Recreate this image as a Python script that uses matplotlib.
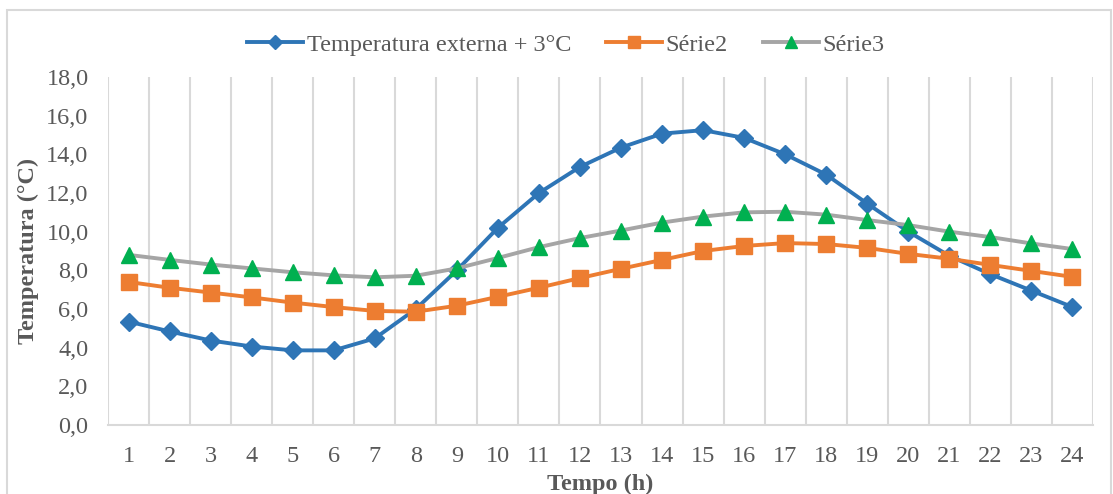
import matplotlib
matplotlib.use("Agg")
import matplotlib.pyplot as plt
from matplotlib.patches import Rectangle
import numpy as np

# hours
horas = list(range(1, 25))

# values
temp_externa = [5.35, 4.84, 4.37, 4.06, 3.86, 3.86, 4.48, 6.0, 8.0, 10.2, 12.0, 13.35,
                14.35, 15.07, 15.25, 14.85, 14.0, 12.95, 11.45, 10.0, 8.75, 7.8, 6.95, 6.1]
serie2 = [7.4, 7.1, 6.85, 6.6, 6.33, 6.1, 5.9, 5.86, 6.17, 6.63, 7.1, 7.6,
          8.08, 8.54, 9.0, 9.26, 9.41, 9.36, 9.16, 8.85, 8.6, 8.28, 7.97, 7.66]
serie3 = [8.8, 8.54, 8.3, 8.1, 7.9, 7.74, 7.64, 7.72, 8.1, 8.64, 9.2, 9.67,
          10.06, 10.47, 10.78, 11.0, 11.03, 10.88, 10.6, 10.34, 10.0, 9.72, 9.39, 9.1]

y_ticks = np.arange(0, 18.1, 2)
y_labels = [("%.1f" % v).replace(".", ",") for v in y_ticks]

plt.rcParams['font.family'] = ['Liberation Serif', 'DejaVu Serif']
txt = '#595959'
grid_c = '#D9D9D9'
fs = 17.5

fig = plt.figure(figsize=(11.13, 4.94), dpi=100)
ax = fig.add_axes([108/1113, 1 - 425/494, (1093-108)/1113, (425-77)/494])

ax.plot(horas, temp_externa, color='#2E75B6', lw=2.8, marker='D', ms=9.5,
        label='Temperatura externa + 3°C', zorder=3)
ax.plot(horas, serie2, color='#ED7D31', lw=2.8, marker='s', ms=11.5,
        label='Série2', zorder=3)
ax.plot(horas, serie3, color='#A5A5A5', lw=2.8, marker='^', ms=11.5,
        markerfacecolor='#00B050', markeredgecolor='#00B050',
        label='Série3', zorder=3)

ax.set_xlim(0.5, 24.5)
ax.set_ylim(0, 18)
ax.set_xticks(horas)
ax.set_xticks(np.arange(0.5, 25, 1), minor=True)
ax.set_yticks(y_ticks)
ax.set_yticklabels(y_labels)
ax.grid(axis='x', which='minor', color=grid_c, lw=1.5)
ax.tick_params(which='both', length=0)
ax.tick_params(axis='both', labelsize=fs, colors=txt)
ax.tick_params(axis='x', pad=15)
ax.tick_params(axis='y', pad=14)
for s in ['top', 'right', 'left']:
    ax.spines[s].set_visible(False)
ax.spines['bottom'].set_color(grid_c)
ax.spines['bottom'].set_linewidth(1.5)

ax.set_xlabel('Tempo (h)', fontsize=fs, fontweight='bold', color=txt, va='center')
ax.set_ylabel('Temperatura (°C)', fontsize=fs, fontweight='bold', color=txt, va='center')
ax.xaxis.set_label_coords(0.5, (425 - 484) / 348)
ax.yaxis.set_label_coords((28 - 108) / 985, 0.5)

leg = fig.legend(loc='center', bbox_to_anchor=(566/1113, 1 - 45/494), ncol=3, frameon=False,
                 fontsize=fs, labelcolor=txt, handlelength=2.3, handletextpad=0.15,
                 columnspacing=1.45, markerscale=0.8)

fig.patches.append(Rectangle((6.5/1113, -0.1), (1111-6.5)/1113, 1.1 - 10/494,
                             transform=fig.transFigure, fill=False,
                             edgecolor=grid_c, lw=1.5))

fig.savefig('out.png', dpi=100)
